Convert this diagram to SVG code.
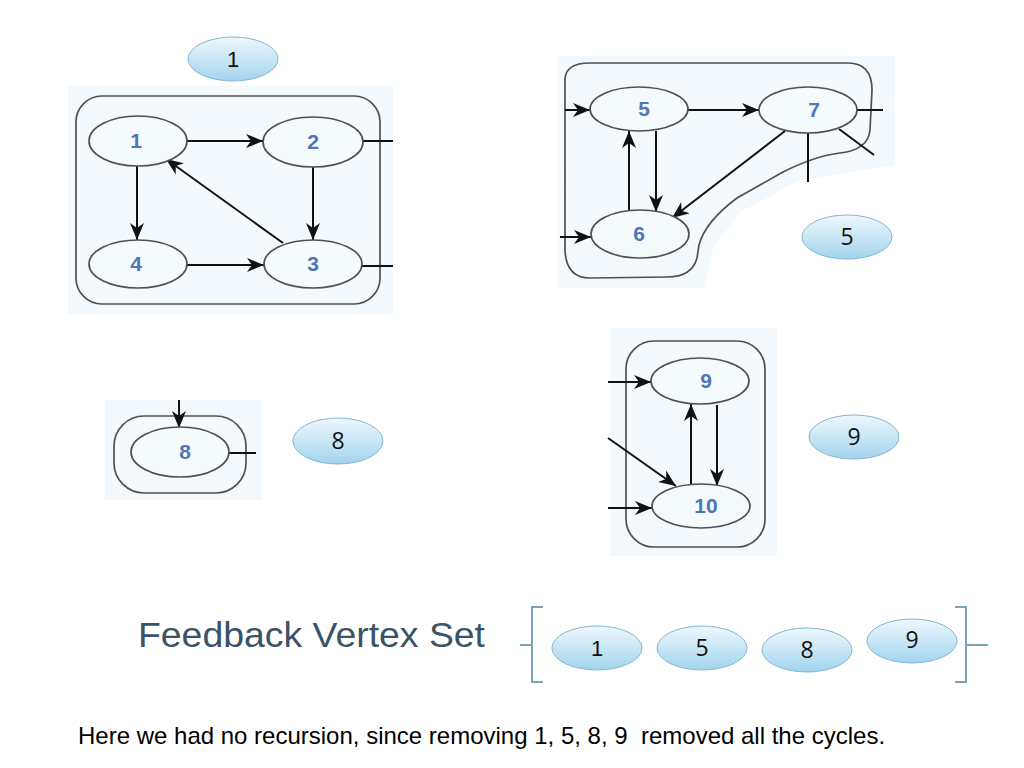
<svg xmlns="http://www.w3.org/2000/svg" width="1024" height="768" viewBox="0 0 1024 768">
<defs>
<linearGradient id="bg" x1="0" y1="0" x2="0" y2="1">
<stop offset="0" stop-color="#eef8fd"/>
<stop offset="1" stop-color="#a2d4ee"/>
</linearGradient>
<marker id="ah" markerUnits="userSpaceOnUse" markerWidth="18" markerHeight="14" refX="17" refY="7" orient="auto">
<path d="M0,0 L17,7 L0,14 L5,7 Z" fill="#111"/>
</marker>
<style>
.panel{fill:#f3f9fd}
.box{fill:none;stroke:#505050;stroke-width:1.7}
.node{fill:#f5fafd;stroke:#505050;stroke-width:1.7}
.nl{font-family:"Liberation Sans",Arial,sans-serif;font-weight:bold;font-size:21px;fill:#4f75b8;text-anchor:middle}
.edge{fill:none;stroke:#111;stroke-width:2}
.arr{marker-end:url(#ah)}
.badge{fill:url(#bg);stroke:#86b6cf;stroke-width:1}
.bl{font-family:"Open Sans","Liberation Sans",sans-serif;font-size:23px;fill:#111;text-anchor:middle}
.bla{font-family:"Liberation Sans",Arial,sans-serif;font-size:22px;fill:#111;text-anchor:middle}
.brk{fill:none;stroke:#7aa3b8;stroke-width:2}
</style>
</defs>
<rect width="1024" height="768" fill="#fff"/>

<!-- panel backgrounds -->
<rect class="panel" x="68" y="86" width="325" height="228"/>
<path class="panel" d="M558,56 L895,56 L895,165 L800,180 L740,212 L712,250 L705,288 L558,288 Z"/>
<rect class="panel" x="610" y="328" width="167" height="228"/>
<rect class="panel" x="105" y="400" width="157" height="100"/>

<!-- group outlines -->
<g id="groups">
<rect class="box" x="76" y="96" width="304" height="208" rx="26"/>
<path class="box" d="M565,250 L565,80 Q565,63 590,63 L848,63 Q872,63 872,90 L870,130 Q868,150 840,153 Q815,156 783,172 L737,198 Q705,222 699,245 L697,258 Q692,277 667,277 L590,278 Q566,278 565,250 Z"/>
<rect class="box" x="626" y="341" width="139" height="206" rx="28"/>
<rect class="box" x="114" y="416" width="132" height="77" rx="30"/>
</g>

<!-- connectors -->
<g id="connectors">
<line class="edge arr" x1="187" y1="141" x2="263" y2="141"/>
<line class="edge arr" x1="313" y1="167" x2="313" y2="240"/>
<line class="edge arr" x1="137" y1="166" x2="137" y2="240"/>
<line class="edge arr" x1="187" y1="265" x2="264" y2="265"/>
<line class="edge arr" x1="283" y1="243" x2="166" y2="159"/>
<line class="edge" x1="363" y1="141" x2="393" y2="141"/>
<line class="edge" x1="362" y1="266" x2="393" y2="266"/>

<line class="edge arr" x1="565" y1="110" x2="590" y2="110"/>
<line class="edge arr" x1="560" y1="237" x2="591" y2="237"/>
<line class="edge arr" x1="688" y1="110" x2="759" y2="110"/>
<line class="edge arr" x1="656" y1="131" x2="656" y2="212"/>
<line class="edge arr" x1="629" y1="210" x2="629" y2="131"/>
<line class="edge arr" x1="785" y1="131" x2="672" y2="218"/>
<line class="edge" x1="857" y1="110" x2="883" y2="110"/>
<line class="edge" x1="839" y1="129" x2="874" y2="155"/>
<line class="edge" x1="808" y1="133" x2="808" y2="182"/>

<line class="edge arr" x1="608" y1="382" x2="651" y2="382"/>
<line class="edge arr" x1="608" y1="438" x2="676" y2="486"/>
<line class="edge arr" x1="608" y1="508" x2="652" y2="508"/>
<line class="edge arr" x1="691" y1="484" x2="691" y2="404"/>
<line class="edge arr" x1="717" y1="405" x2="717" y2="486"/>

<line class="edge arr" x1="179" y1="400" x2="179" y2="428"/>
<line class="edge" x1="229" y1="453" x2="256" y2="453"/>
</g>

<!-- nodes -->
<g id="n1"><ellipse class="node" cx="138" cy="141" rx="49" ry="25"/><text class="nl" x="136" y="148">1</text></g>
<g id="n2"><ellipse class="node" cx="313" cy="142" rx="50" ry="25"/><text class="nl" x="313" y="149">2</text></g>
<g id="n4"><ellipse class="node" cx="138" cy="264" rx="49" ry="24"/><text class="nl" x="136" y="271">4</text></g>
<g id="n3"><ellipse class="node" cx="313" cy="264" rx="49" ry="24"/><text class="nl" x="313" y="271">3</text></g>

<g id="n5"><ellipse class="node" cx="639" cy="109" rx="49" ry="22"/><text class="nl" x="644" y="116">5</text></g>
<g id="n7"><ellipse class="node" cx="808" cy="110" rx="49" ry="23"/><text class="nl" x="814" y="117">7</text></g>
<g id="n6"><ellipse class="node" cx="640" cy="234" rx="49" ry="24"/><text class="nl" x="639" y="241">6</text></g>

<g id="n9"><ellipse class="node" cx="700" cy="381" rx="49" ry="23"/><text class="nl" x="706" y="388">9</text></g>
<g id="n10"><ellipse class="node" cx="701" cy="506" rx="49" ry="22"/><text class="nl" x="706" y="513">10</text></g>

<g id="n8"><ellipse class="node" cx="180" cy="452" rx="49" ry="25"/><text class="nl" x="185" y="459">8</text></g>

<!-- badges -->
<g id="b1"><ellipse class="badge" cx="233" cy="59" rx="45" ry="22"/><text class="bla" x="233" y="67">1</text></g>
<g id="b5"><ellipse class="badge" cx="847" cy="237" rx="45" ry="22"/><text class="bl" x="847" y="245">5</text></g>
<g id="b8"><ellipse class="badge" cx="338" cy="441" rx="45" ry="23"/><text class="bl" x="338" y="449">8</text></g>
<g id="b9"><ellipse class="badge" cx="854" cy="437" rx="45" ry="22"/><text class="bl" x="854" y="445">9</text></g>

<!-- feedback vertex set -->
<text x="138" y="647" font-family="'Liberation Sans',Arial,sans-serif" font-size="35" fill="#3b5367" textLength="347" lengthAdjust="spacingAndGlyphs">Feedback Vertex Set</text>
<g id="brackets">
<path class="brk" d="M543,607 L532,607 L532,682 L543,682 M532,645 L520,645"/>
<path class="brk" d="M955,607 L966,607 L966,682 L955,682 M966,645 L988,645"/>
</g>
<g id="s1"><ellipse class="badge" cx="597" cy="648" rx="45" ry="22"/><text class="bla" x="597" y="656">1</text></g>
<g id="s5"><ellipse class="badge" cx="702" cy="648" rx="45" ry="22"/><text class="bl" x="702" y="656">5</text></g>
<g id="s8"><ellipse class="badge" cx="807" cy="650" rx="45" ry="22"/><text class="bl" x="807" y="658">8</text></g>
<g id="s9"><ellipse class="badge" cx="912" cy="641" rx="45" ry="22"/><text class="bl" x="912" y="648">9</text></g>

<text x="78" y="744" font-family="'Liberation Sans',Arial,sans-serif" font-size="24" fill="#000" xml:space="preserve">Here we had no recursion, since removing 1, 5, 8, 9  removed all the cycles.</text>
</svg>
